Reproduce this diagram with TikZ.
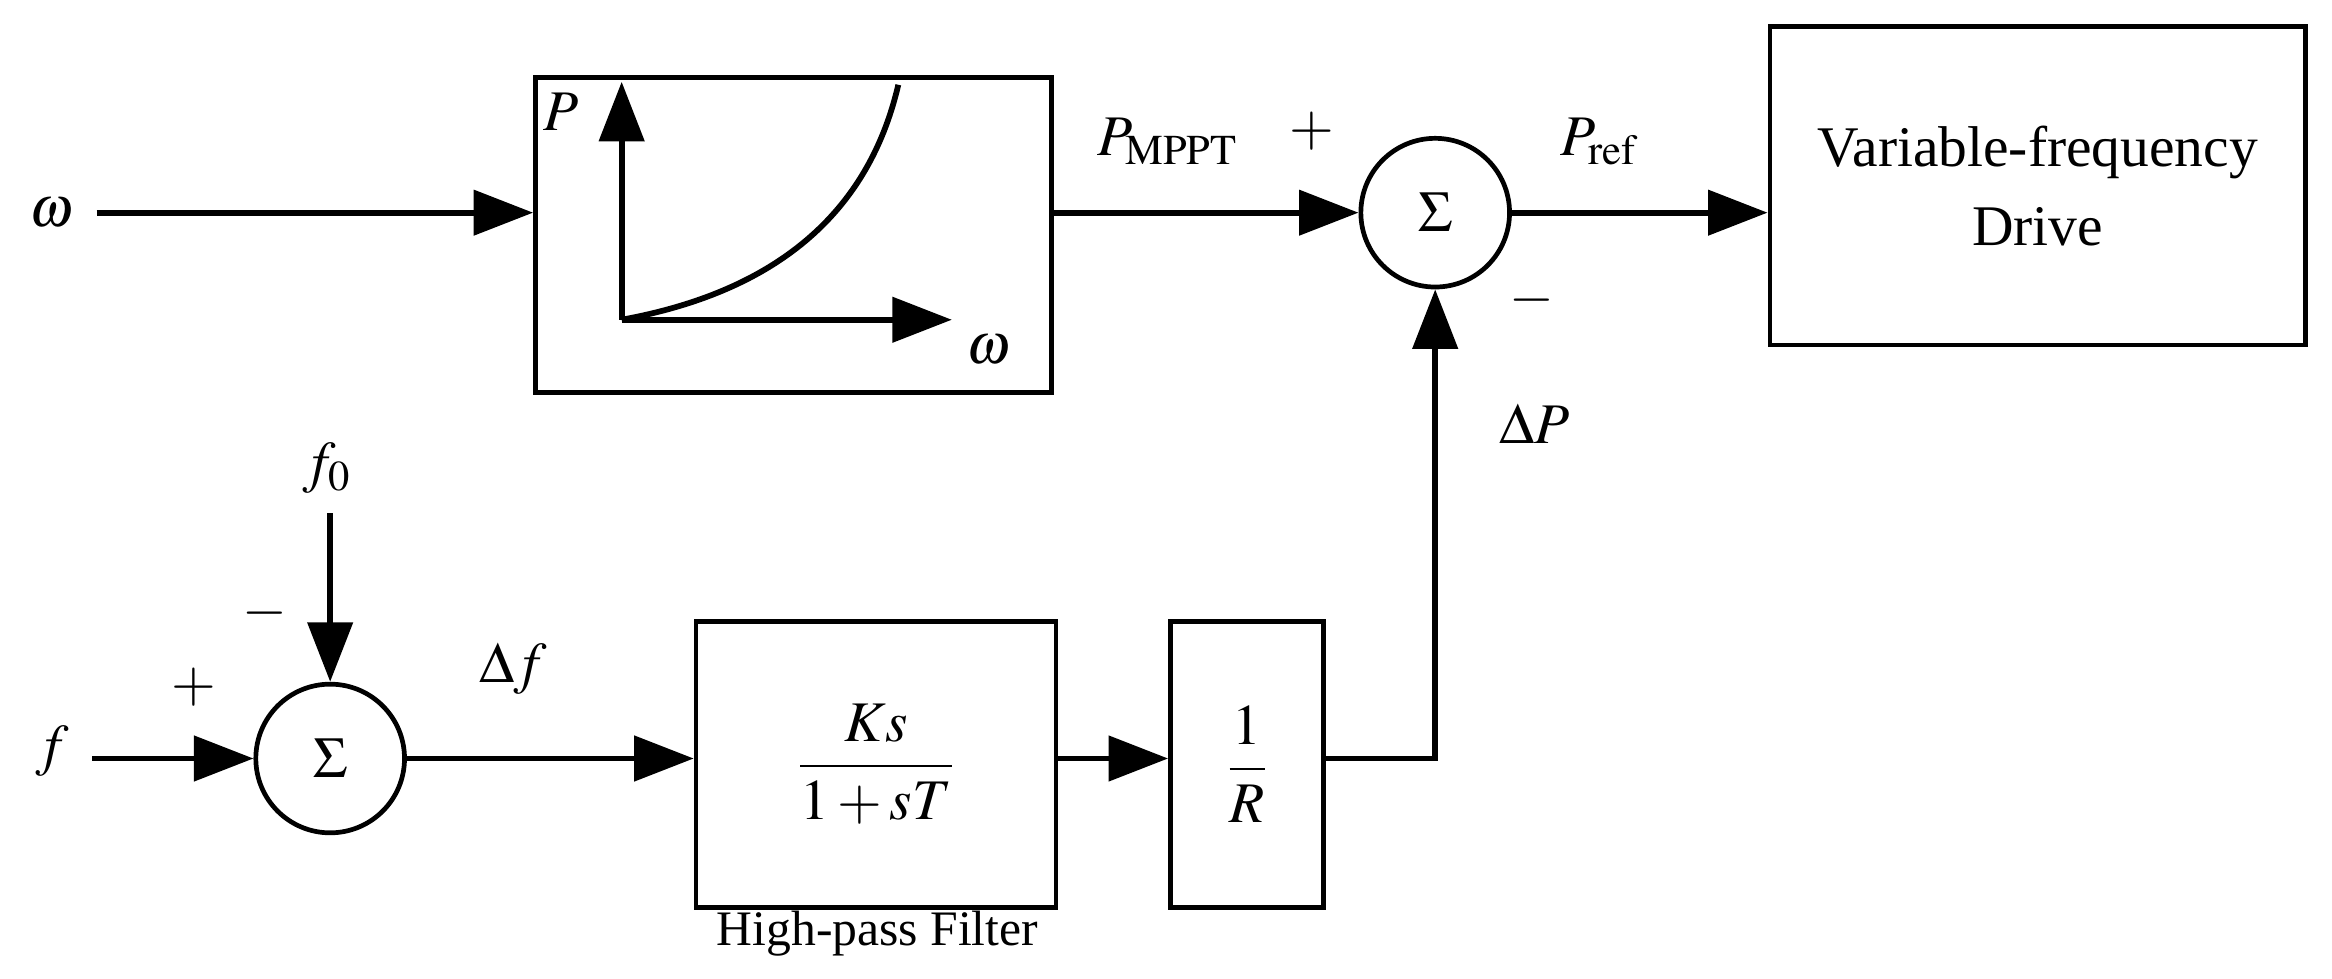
\documentclass[tikz,border=0pt]{standalone}
\usepackage{amsmath}
\usepackage{mathptmx}
\usepackage{fontspec}
\setmainfont{Liberation Serif}
\usetikzlibrary{arrows.meta}
\begin{document}
\begin{tikzpicture}[x=0.02cm,y=-0.02cm,
  every node/.style={font=\fontsize{22}{26}\selectfont},
  ln/.style={line width=2.2pt},
  arr/.style={ln,-{Triangle[length=0.8cm,width=0.6cm]}},
  blk/.style={draw,line width=1.8pt,inner sep=0pt},
  sum/.style={draw,circle,line width=1.8pt,minimum size=2cm,inner sep=0pt}]
\useasboundingbox (0,0) rectangle (1568,658);
% top row
\node (w) at (35,143) {$\omega$};
\node[blk,minimum width=6.94cm,minimum height=4.24cm] (curve) at (533.5,158) {};
\node[sum] (s1) at (965,143) {$\Sigma$};
\node[blk,minimum width=7.2cm,minimum height=4.28cm,align=center] (vfd) at (1370,125) {Variable-frequency\\[4pt]Drive};
\coordinate (win) at (65,143);
\draw[arr] (win) -- (curve.west|-win);
\draw[arr] (curve.east|-s1) -- (s1.west);
\draw[arr] (s1.east) -- (vfd.west|-s1);
% curve inside
\coordinate (o) at (418,215);
\coordinate (py) at (418,55);
\coordinate (px) at (640,215);
\draw[arr] (o) -- (py);
\draw[arr] (o) -- (px);
\draw[ln] (o) .. controls (500,200) and (580,160) .. (604,57);
\node at (377,75) {$P$};
\node at (665,235) {$\omega$};
\node at (785,95) {$P_{\mathrm{MPPT}}$};
\node at (882,88) {$+$};
\node at (1075,95) {$P_{\mathrm{ref}}$};
\node at (1030,202) {$-$};
\node at (1032,285) {$\Delta P$};
% bottom row
\node (f) at (35,505) {$f$};
\node[sum] (s2) at (222,510) {$\Sigma$};
\node[blk,minimum width=4.84cm,minimum height=3.84cm] (hpf) at (589,514)
  {$\dfrac{Ks}{1+sT}$};
\node[blk,minimum width=2.06cm,minimum height=3.84cm] (r) at (838.5,514) {$\dfrac{1}{R}$};
\node (f0) at (220,315) {$f_0$};
\coordinate (f0s) at (222,345);
\coordinate (fin) at (62,510);
\coordinate (c) at (965,510);
\draw[arr] (fin) -- (s2.west);
\draw[arr] (f0s) -- (s2.north);
\draw[arr] (s2.east) -- (hpf.west|-s2);
\draw[arr] (hpf.east|-s2) -- (r.west|-s2);
\draw[arr] (r.east|-s2) -- (c) -- (s1.south);
\node at (130,462) {$+$};
\node at (178,412) {$-$};
\node at (345,450) {$\Delta f$};
\node[font=\fontsize{19}{22}\selectfont] at (590,628) {High-pass Filter};
\end{tikzpicture}
\end{document}
